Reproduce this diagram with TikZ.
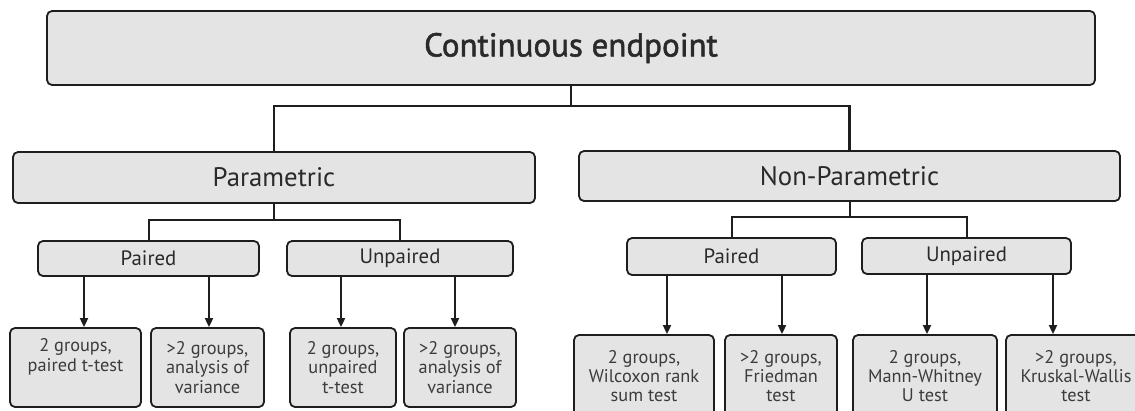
\documentclass[tikz,border=0pt]{standalone}
\usepackage{fontspec}
\setmainfont{PT Sans}
\newfontfamily\titlefont[FakeBold=1.6]{PT Sans}
\usetikzlibrary{arrows.meta}
\definecolor{boxfill}{HTML}{E4E4E4}
\definecolor{boxline}{HTML}{1E1E1E}
\definecolor{txt}{HTML}{2A2A2A}
\definecolor{leaftxt}{HTML}{3C3C3C}
\tikzset{
  box/.style={draw=boxline, line width=1.8pt, fill=boxfill, rounded corners=5pt,
    inner sep=0pt, align=center, text=txt},
  conn/.style={draw=boxline, line width=2pt},
  arr/.style={draw=boxline, line width=1.8pt, -{Triangle[length=9pt,width=8pt]}},
  leaf/.style={box, text=leaftxt, font=\fontsize{18.3}{19.2}\selectfont},
  mid/.style={box, font=\fontsize{26.8}{28}\selectfont},
  small/.style={box, font=\fontsize{20.8}{22}\selectfont},
}
\begin{document}
\begin{tikzpicture}[x=1pt,y=-1pt]
\useasboundingbox (0,0) rectangle (1135,410);
\clip (0,0) rectangle (1135,410);
% level 0
\node[box, minimum width=1048pt, minimum height=74pt, font=\titlefont\fontsize{33}{36}\selectfont] (top) at (571,48) {Continuous endpoint};
% level 1
\node[mid, minimum width=522pt, minimum height=51pt] (par) at (274,177.5) {Parametric};
\node[mid, minimum width=541pt, minimum height=50pt] (npar) at (849.5,176) {Non-Parametric};
% level 2
\node[small, minimum width=221pt, minimum height=35pt] (pl) at (148.5,258.5) {Paired};
\node[small, minimum width=226pt, minimum height=35pt] (ul) at (400,258.5) {Unpaired};
\node[small, minimum width=209pt, minimum height=37pt] (pr) at (731.5,256.5) {Paired};
\node[small, minimum width=209pt, minimum height=36pt] (ur) at (966.5,256) {Unpaired};
% level 3 left
\node[leaf, minimum width=131pt, minimum height=79pt] (b1) at (75.5,367.5) {2 groups,\\paired t-test\\\strut};
\node[leaf, minimum width=113pt, minimum height=79pt] (b2) at (207.5,367.5) {>2 groups,\\analysis of\\variance};
\node[leaf, minimum width=106pt, minimum height=79pt] (b3) at (343,367.5) {2 groups,\\unpaired\\t-test};
\node[leaf, minimum width=112pt, minimum height=79pt] (b4) at (460,367.5) {>2 groups,\\analysis of\\variance};
% level 3 right
\node[leaf, minimum width=140pt, minimum height=82pt] (c1) at (644,376) {2 groups,\\Wilcoxon rank\\sum test};
\node[leaf, minimum width=112pt, minimum height=82pt] (c2) at (781,376) {>2 groups,\\Friedman\\test};
\node[leaf, minimum width=144pt, minimum height=82pt] (c3) at (925,376) {2 groups,\\Mann-Whitney\\U test};
\node[leaf, minimum width=140pt, minimum height=82pt] (c4) at (1076,376) {>2 groups,\\Kruskal-Wallis\\test};
% connectors
\coordinate (h0) at (0,106);
\draw[conn, line width=2.4pt] (top.south) -- (top.south |- h0) -| (par.north);
\draw[conn, line width=2.4pt] (top.south |- h0) -| (npar.north);
\coordinate (h1) at (0,220);
\draw[conn] (par.south) -- (par.south |- h1) -| (pl.north);
\draw[conn] (par.south |- h1) -| (ul.north);
\coordinate (h2) at (0,217);
\draw[conn] (npar.south) -- (npar.south |- h2) -| (pr.north);
\draw[conn] (npar.south |- h2) -| (ur.north);
% arrows
\coordinate (x1) at (84,0);
\coordinate (x2) at (209,0);
\coordinate (x3) at (341,0);
\coordinate (x4) at (455,0);
\coordinate (x5) at (667,0);
\coordinate (x6) at (782,0);
\coordinate (x7) at (927,0);
\coordinate (x8) at (1053,0);
\draw[arr] (pl.south -| x1) -- (b1.north -| x1);
\draw[arr] (pl.south -| x2) -- (b2.north -| x2);
\draw[arr] (ul.south -| x3) -- (b3.north -| x3);
\draw[arr] (ul.south -| x4) -- (b4.north -| x4);
\draw[arr] (pr.south -| x5) -- (c1.north -| x5);
\draw[arr] (pr.south -| x6) -- (c2.north -| x6);
\draw[arr] (ur.south -| x7) -- (c3.north -| x7);
\draw[arr] (ur.south -| x8) -- (c4.north -| x8);
\end{tikzpicture}
\end{document}
